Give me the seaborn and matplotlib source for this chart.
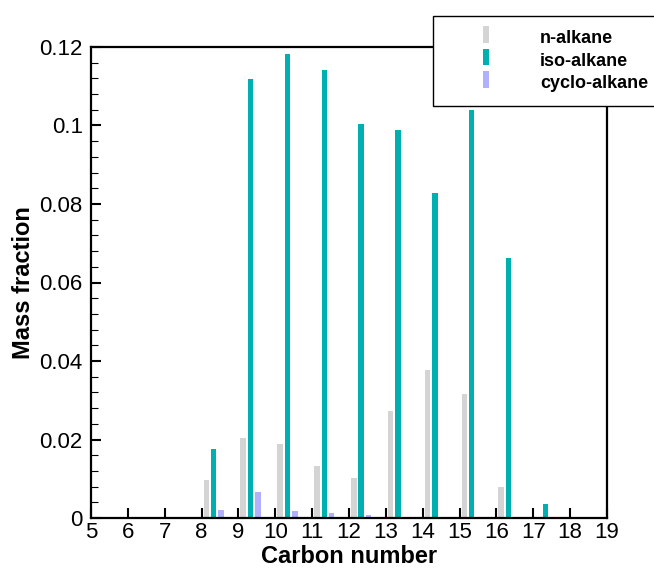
import seaborn as sns
import pandas as pd
import matplotlib.pyplot as plt
from matplotlib.patches import Patch, Rectangle
from matplotlib.legend_handler import HandlerPatch
from matplotlib.ticker import AutoMinorLocator, FormatStrFormatter

# --------------------- data ---------------------
carbon = [8, 9, 10, 11, 12, 13, 14, 15, 16, 17]
n_alkane = [0.0097, 0.0203, 0.0188, 0.0132, 0.0103, 0.0273, 0.0376, 0.0315, 0.0079, 0.0]
iso_alkane = [0.0175, 0.1118, 0.1181, 0.1141, 0.1005, 0.0988, 0.0828, 0.1040, 0.0663, 0.0035]
cyclo_alkane = [0.0021, 0.0066, 0.0019, 0.0012, 0.0008, 0.0, 0.0, 0.0, 0.0, 0.0]

series = ["n-alkane", "iso-alkane", "cyclo-alkane"]
colors = ["#d4d4d4", "#00b0b0", "#b0b0ff"]

df = pd.concat([
    pd.DataFrame({"carbon": carbon, "frac": vals, "type": name})
    for name, vals in zip(series, [n_alkane, iso_alkane, cyclo_alkane])
])
# bar groups sit just right of each integer tick
df["pos"] = df["carbon"] + 0.33

sns.set_style("ticks")
plt.rcParams["font.family"] = ["Liberation Sans", "DejaVu Sans"]
for key in ["text.color", "axes.labelcolor", "xtick.color", "ytick.color"]:
    plt.rcParams[key] = "black"

fig = plt.figure(figsize=(6.54, 5.71), dpi=100)
ax = fig.add_axes([91 / 654, 1 - 518 / 571, (607 - 91) / 654, (518 - 47) / 571])

sns.barplot(
    data=df,
    x="pos",
    y="frac",
    hue="type",
    hue_order=series,
    palette=colors,
    saturation=1,
    native_scale=True,
    width=0.6,
    gap=0.25,
    errorbar=None,
    linewidth=0,
    legend=False,
    ax=ax,
)

# axes, ticks
ax.set_xlim(5, 19)
ax.set_ylim(0, 0.12)
ax.set_xticks(range(5, 20))
ax.set_xticklabels([str(c) for c in range(5, 20)])
ax.set_yticks([0, 0.02, 0.04, 0.06, 0.08, 0.1, 0.12])
ax.yaxis.set_major_formatter(FormatStrFormatter("%g"))
ax.yaxis.set_minor_locator(AutoMinorLocator(5))
ax.tick_params(axis="both", which="major", direction="in", length=7, width=1.5,
               labelsize=16, top=False, right=False)
ax.tick_params(axis="x", which="major", pad=3)
ax.tick_params(axis="y", which="major", pad=6)
ax.tick_params(axis="y", which="minor", direction="in", length=5, width=0.8, right=False)
for s in ax.spines.values():
    s.set_linewidth(1.6)
    s.set_color("black")

ax.set_xlabel("Carbon number", fontsize=17, fontweight="bold", labelpad=1)
ax.set_ylabel("Mass fraction", fontsize=17, fontweight="bold", labelpad=3)


# legend with narrow upright swatches
def narrow_patch(legend, orig_handle, xdescent, ydescent, width, height, fontsize):
    return Rectangle((xdescent + width * 0.43, ydescent - height * 0.05), width * 0.07, height * 1.1)


handles = [Patch(facecolor=c, edgecolor="none") for c in colors]
leg = ax.legend(
    handles, series,
    loc="upper left",
    bbox_to_anchor=(433 / 654, 1 - 16 / 571),
    bbox_transform=fig.transFigure,
    borderaxespad=0,
    prop={"weight": "bold", "size": 13},
    handlelength=4.67,
    handleheight=0.9,
    handletextpad=0.5,
    labelspacing=0.26,
    borderpad=0.75,
    frameon=True,
    fancybox=False,
    framealpha=1,
    handler_map={Patch: HandlerPatch(patch_func=narrow_patch)},
)
leg.get_frame().set_edgecolor("black")
leg.get_frame().set_linewidth(1.0)

plt.savefig("out.png", dpi=100)
